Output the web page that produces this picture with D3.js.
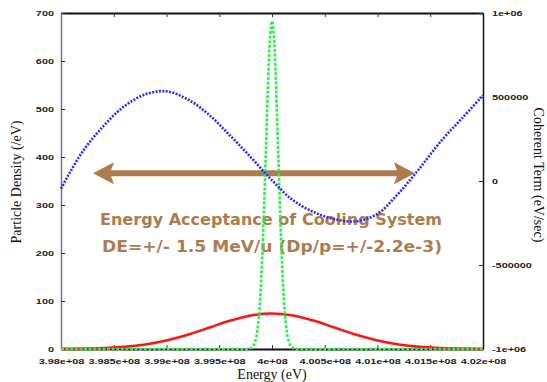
<!DOCTYPE html>
<html>
<head>
<meta charset="utf-8">
<script src="https://cdn.jsdelivr.net/npm/d3@7"></script>
<style>
  body { margin: 0; background: #fff; }
  svg { display: block; }
  .tick text { font-family: "Liberation Sans", Arial, sans-serif; font-size: 7.5px; font-weight: bold; fill: #222; }
  .lbl { font-family: "Liberation Serif", "Times New Roman", serif; font-size: 14px; fill: #111; }
  .note { font-family: "DejaVu Sans", sans-serif; font-size: 15px; font-weight: bold; fill: #ad7c4e; }
</style>
</head>
<body>
<div id="chart"></div>
<script>
// values
var xTicks = [3.98e8, 3.985e8, 3.99e8, 3.995e8, 4e8, 4.005e8, 4.01e8, 4.015e8, 4.02e8];
var xTickLabels = ['3.98e+08', '3.985e+08', '3.99e+08', '3.995e+08', '4e+08', '4.005e+08', '4.01e+08', '4.015e+08', '4.02e+08'];
var yTicks = [0, 100, 200, 300, 400, 500, 600, 700];
var y2Ticks = [-1e6, -5e5, 0, 5e5, 1e6];
var y2TickLabels = ['-1e+06', '-500000', '0', '500000', '1e+06'];

// coherent term (blue, right axis)
var blueEnergy = [3.980e8, 3.982e8, 3.984e8, 3.986e8, 3.988e8, 3.990e8, 3.992e8, 3.994e8, 3.996e8, 3.998e8,
                  4.000e8, 4.002e8, 4.004e8, 4.006e8, 4.008e8, 4.010e8, 4.012e8, 4.014e8, 4.016e8, 4.018e8, 4.020e8];
var blueCoherent = [-45000, 171000, 326000, 445000, 516000, 534000, 486000, 396000, 272000, 141000,
                    4000, -115000, -186000, -228000, -240000, -195000, -73000, 76000, 236000, 373000, 510000];

// wide distribution (red, left axis)
var redEnergy = [3.980e8, 3.982e8, 3.984e8, 3.986e8, 3.988e8, 3.990e8, 3.992e8, 3.994e8, 3.996e8, 3.998e8,
                 4.000e8, 4.002e8, 4.004e8, 4.006e8, 4.008e8, 4.010e8, 4.012e8, 4.014e8, 4.016e8, 4.018e8, 4.020e8];
var redDensity = [0.2, 0.7, 1.9, 4.4, 9.4, 17.6, 29.5, 44.1, 58.8, 69.9,
                  74, 69.9, 58.8, 44.1, 29.5, 17.6, 9.4, 4.4, 1.9, 0.7, 0.2];

// narrow distribution (green, left axis)
var greenEnergy = [3.980e8, 3.9976e8, 3.9978e8, 3.9980e8, 3.9982e8, 3.9984e8, 3.9986e8, 3.9988e8, 3.9990e8, 3.9992e8,
                   3.9994e8, 3.9996e8, 3.9998e8, 4.0000e8, 4.0002e8, 4.0004e8, 4.0006e8, 4.0008e8, 4.0010e8,
                   4.0012e8, 4.0014e8, 4.0016e8, 4.0018e8, 4.0020e8, 4.0022e8, 4.0024e8, 4.020e8];
var greenDensity = [0, 0, 0.6, 1.8, 5.5, 15, 37, 80, 155, 264,
                    400, 538, 643, 683, 643, 538, 400, 264, 155,
                    80, 37, 15, 5.5, 1.8, 0.6, 0, 0];

var width = 547, height = 382;
var margin = {left: 61, right: 64, top: 13, bottom: 33};
var tickStretch = 1.45; // gnuplot tick font is wide and short

var svg = d3.select('#chart').append('svg')
  .attr('width', width)
  .attr('height', height);

var x = d3.scaleLinear().domain([3.98e8, 4.02e8]).range([margin.left, width - margin.right]);
var y = d3.scaleLinear().domain([0, 700]).range([height - margin.bottom, margin.top]);
var y2 = d3.scaleLinear().domain([-1e6, 1e6]).range([height - margin.bottom, margin.top]);

// axes (gnuplot style: ticks inside)
svg.append('g')
  .attr('transform', 'translate(0,' + (height - margin.bottom) + ')')
  .call(d3.axisBottom(x).tickValues(xTicks).tickFormat(function(d, i){ return xTickLabels[i]; }).tickSizeInner(-4).tickSizeOuter(0).tickPadding(10))
  .call(function(g){ g.select('.domain').attr('stroke', '#111').attr('stroke-width', 2); });

svg.append('g')
  .attr('transform', 'translate(0,' + margin.top + ')')
  .call(d3.axisTop(x).tickValues(xTicks).tickFormat('').tickSizeInner(-4).tickSizeOuter(0))
  .call(function(g){ g.select('.domain').attr('stroke', '#111').attr('stroke-width', 2); });

svg.append('g')
  .attr('transform', 'translate(' + margin.left + ',0)')
  .call(d3.axisLeft(y).tickValues(yTicks).tickSizeInner(-4).tickSizeOuter(0).tickPadding(7))
  .call(function(g){ g.select('.domain').attr('stroke', '#777').attr('stroke-width', 1.5); });

svg.append('g')
  .attr('transform', 'translate(' + (width - margin.right) + ',0)')
  .call(d3.axisRight(y2).tickValues(y2Ticks).tickFormat(function(d, i){ return y2TickLabels[i]; }).tickSizeInner(-4).tickSizeOuter(0).tickPadding(9))
  .call(function(g){ g.select('.domain').attr('stroke', '#111').attr('stroke-width', 1.5); });

svg.selectAll('.tick line').attr('stroke', '#333');
svg.selectAll('.tick text').each(function(){
  var w = this.getComputedTextLength();
  if (w > 0) d3.select(this).attr('textLength', w * tickStretch).attr('lengthAdjust', 'spacingAndGlyphs');
});

// annotation arrow + text (drawn under the curves)
var arrowY = y(366);
var ax0 = x(3.98303e8), ax1 = x(4.01355e8);
var brown = '#ad7c4e';
var ann = svg.append('g');
ann.append('line')
  .attr('x1', ax0 + 14).attr('x2', ax1 - 14)
  .attr('y1', arrowY).attr('y2', arrowY)
  .attr('stroke', brown).attr('stroke-width', 6);
ann.append('path')
  .attr('d', 'M' + ax0 + ',' + arrowY + 'L' + (ax0 + 21) + ',' + (arrowY - 11) + 'L' + (ax0 + 17) + ',' + arrowY + 'L' + (ax0 + 21) + ',' + (arrowY + 11) + 'Z')
  .attr('fill', brown);
ann.append('path')
  .attr('d', 'M' + ax1 + ',' + arrowY + 'L' + (ax1 - 21) + ',' + (arrowY - 11) + 'L' + (ax1 - 17) + ',' + arrowY + 'L' + (ax1 - 21) + ',' + (arrowY + 11) + 'Z')
  .attr('fill', brown);

ann.append('text').attr('class', 'note')
  .attr('x', 271).attr('y', 225)
  .attr('text-anchor', 'middle')
  .attr('textLength', 342).attr('lengthAdjust', 'spacingAndGlyphs')
  .text('Energy Acceptance of Cooling System');
ann.append('text').attr('class', 'note')
  .attr('x', 272).attr('y', 252)
  .attr('text-anchor', 'middle')
  .attr('textLength', 340).attr('lengthAdjust', 'spacingAndGlyphs')
  .text('DE=+/- 1.5 MeV/u (Dp/p=+/-2.2e-3)');

// curves
var redLine = d3.line().x(function(d){ return x(d[0]); }).y(function(d){ return y(d[1]); }).curve(d3.curveMonotoneX);
svg.append('path')
  .datum(d3.zip(redEnergy, redDensity))
  .attr('d', redLine)
  .attr('fill', 'none').attr('stroke', '#ff1414').attr('stroke-width', 2.6);

svg.append('path')
  .datum(d3.zip(greenEnergy, greenDensity))
  .attr('d', redLine)
  .attr('fill', 'none').attr('stroke', '#2cf04c').attr('stroke-width', 2.6)
  .attr('stroke-dasharray', '3,1.6');

var blueLine = d3.line().x(function(d){ return x(d[0]); }).y(function(d){ return y2(d[1]); }).curve(d3.curveCatmullRom);
svg.append('path')
  .datum(d3.zip(blueEnergy, blueCoherent))
  .attr('d', blueLine)
  .attr('fill', 'none').attr('stroke', '#2a2aff').attr('stroke-width', 2.6)
  .attr('stroke-dasharray', '2,1.4');

// axis titles
svg.append('text').attr('class', 'lbl')
  .attr('transform', 'translate(21,182) rotate(-90)')
  .attr('text-anchor', 'middle')
  .text('Particle Density (/eV)');
svg.append('text').attr('class', 'lbl')
  .attr('transform', 'translate(534,175) rotate(90)')
  .attr('text-anchor', 'middle')
  .text('Coherent Term (eV/sec)');
svg.append('text').attr('class', 'lbl')
  .attr('x', x(4e8)).attr('y', 379)
  .attr('text-anchor', 'middle')
  .text('Energy (eV)');
</script>
</body>
</html>
